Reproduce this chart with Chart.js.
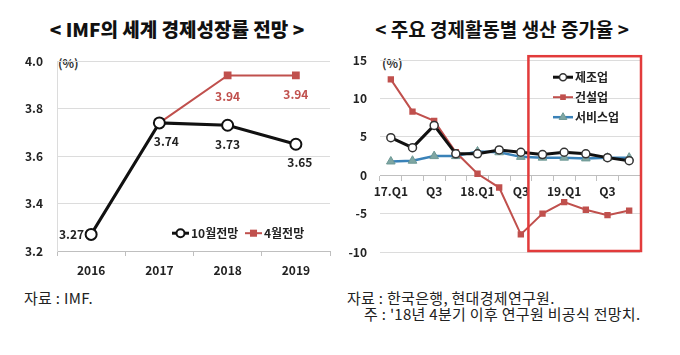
<!DOCTYPE html>
<html><head><meta charset="utf-8">
<script src="https://cdn.jsdelivr.net/npm/chart.js@4"></script>
<style>
body{margin:0;width:680px;height:355px;background:#fff;position:relative;overflow:hidden;font-family:"Noto Sans CJK KR",sans-serif;}
.t{position:absolute;white-space:nowrap;color:#111;line-height:24px;}
.f{position:absolute;white-space:nowrap;color:#222;line-height:20px;font-size:15px;letter-spacing:0.3px;}
.c{position:absolute;}
</style></head><body>
<div class="t" style="left:177px;top:17px;transform:translateX(-50%);font-size:19px;font-weight:900;">&lt; IMF의 세계 경제성장률 전망 &gt;</div>
<div class="t" style="left:502px;top:17px;transform:translateX(-50%);font-size:19px;font-weight:700;">&lt; 주요 경제활동별 생산 증가율 &gt;</div>
<div class="t" style="left:58px;top:51px;font-size:12px;font-weight:700;color:#333;">(%)</div>
<div class="t" style="left:382px;top:51px;font-size:12px;font-weight:700;color:#333;">(%)</div>
<div class="f" style="left:24px;top:288px;">자료 : IMF.</div>
<div class="f" style="left:347px;top:288px;">자료 : 한국은행, 현대경제연구원.</div>
<div class="f" style="left:364px;top:304px;">주 : '18년 4분기 이후 연구원 비공식 전망치.</div>
<canvas id="c1" class="c" width="340" height="250" style="left:0;top:40px;"></canvas>
<canvas id="c2" class="c" width="340" height="250" style="left:340px;top:40px;"></canvas>
<script>
// ---- data: left chart ----
const years = ['2016', '2017', '2018', '2019'];
const octForecast = [3.27, 3.74, 3.73, 3.65];
const aprForecast = [null, 3.74, 3.94, 3.94];
const leftSeriesNames = ['10월전망', '4월전망'];

// ---- data: right chart ----
const quarters = ['17.Q1','17.Q2','17.Q3','17.Q4','18.Q1','18.Q2','18.Q3','18.Q4','19.Q1','19.Q2','19.Q3','19.Q4'];
const quarterTickLabels = ['17.Q1','','Q3','','18.Q1','','Q3','','19.Q1','','Q3',''];
const manufacturing = [4.9, 3.6, 6.5, 2.8, 2.8, 3.3, 3.0, 2.7, 3.0, 2.8, 2.3, 1.9];
const construction = [12.5, 8.3, 7.1, 3.0, 0.2, -1.6, -7.7, -5.0, -3.5, -4.5, -5.2, -4.6];
const services = [1.8, 1.9, 2.5, 2.5, 3.1, 3.0, 2.4, 2.3, 2.3, 2.2, 2.3, 2.3];
const rightSeriesNames = ['제조업', '건설업', '서비스업'];

const FONT = '"Noto Sans CJK KR", sans-serif';
const RED = '#c0504d';

function marker(ctx, style, x, y, r, fill, stroke, bw) {
  ctx.save();
  ctx.beginPath();
  if (style === 'circle') ctx.arc(x, y, r, 0, Math.PI * 2);
  else if (style === 'rect') { const s = r * Math.SQRT1_2; ctx.rect(x - s, y - s, 2 * s, 2 * s); }
  else if (style === 'triangle') {
    ctx.moveTo(x, y - r); ctx.lineTo(x + r * 0.866, y + r * 0.5); ctx.lineTo(x - r * 0.866, y + r * 0.5); ctx.closePath();
  }
  ctx.fillStyle = fill; ctx.fill();
  if (bw) { ctx.lineWidth = bw; ctx.strokeStyle = stroke; ctx.stroke(); }
  ctx.restore();
}

const overlay = {
  id: 'overlay',
  afterDraw(chart, args, opts) {
    const ctx = chart.ctx;
    const ca = chart.chartArea;
    (opts.labels || []).forEach(l => {
      const meta = chart.getDatasetMeta(l.ds);
      const ds = chart.data.datasets[l.ds];
      ds.data.forEach((v, i) => {
        const off = l.offsets[i];
        if (v == null || !off) return;
        const p = meta.data[i];
        ctx.save();
        ctx.font = 'bold 12px ' + FONT;
        ctx.fillStyle = l.color;
        ctx.textAlign = off[2];
        ctx.textBaseline = 'middle';
        ctx.fillText(v.toFixed(2), p.x + off[0], p.y + off[1]);
        ctx.restore();
      });
    });
    if (opts.box) {
      const xs = chart.scales.x;
      const a = xs.getPixelForValue(opts.box.from), b = xs.getPixelForValue(opts.box.from + 1);
      const left = a + (b - a) * opts.box.frac;
      ctx.save();
      ctx.strokeStyle = '#e23b3b';
      ctx.lineWidth = 2.5;
      ctx.strokeRect(left, ca.top - 4, ca.right + 1 - left, ca.bottom - ca.top + 3);
      ctx.restore();
    }
    if (opts.legend) {
      const lg = opts.legend;
      lg.items.forEach((it, k) => {
        const ds = chart.data.datasets[it.ds];
        const x = ca.left + lg.x[k] , y = ca.top + lg.y[k];
        ctx.save();
        ctx.strokeStyle = ds.borderColor;
        ctx.lineWidth = ds.borderWidth;
        ctx.beginPath(); ctx.moveTo(x, y); ctx.lineTo(x + lg.len, y); ctx.stroke();
        marker(ctx, ds.pointStyle, x + lg.len / 2, y, it.r, ds.pointBackgroundColor, ds.pointBorderColor, ds.pointBorderWidth);
        ctx.font = 'bold 12px ' + FONT;
        ctx.fillStyle = it.color;
        ctx.textAlign = 'left'; ctx.textBaseline = 'middle';
        ctx.fillText(ds.label, x + lg.len + 2, y + 0.5);
        ctx.restore();
      });
    }
  }
};

new Chart(document.getElementById('c1'), {
  type: 'line',
  data: {
    labels: years,
    datasets: [
      { label: leftSeriesNames[0], data: octForecast, borderColor: '#111', borderWidth: 3,
        pointStyle: 'circle', pointRadius: 5.5, pointBackgroundColor: '#fff', pointBorderColor: '#111', pointBorderWidth: 2 },
      { label: leftSeriesNames[1], data: aprForecast, borderColor: RED, borderWidth: 2,
        pointStyle: 'rect', pointRadius: [0, 0, 5.5, 5.5], pointBackgroundColor: RED, pointBorderColor: RED, pointBorderWidth: 0 }
    ]
  },
  options: {
    responsive: false, animation: false,
    layout: { padding: { top: 15, right: 10, left: 0, bottom: 0 } },
    plugins: {
      legend: { display: false }, tooltip: { enabled: false },
      overlay: {
        labels: [
          { ds: 0, color: '#222', offsets: [[-7, 0, 'right'], [7, 19, 'center'], [0, 19, 'center'], [4, 18, 'center']] },
          { ds: 1, color: RED, offsets: [null, null, [0, 21, 'center'], [0, 19, 'center']] }
        ],
        legend: { len: 17, x: [115, 188], y: [172, 172],
          items: [ { ds: 0, r: 4, color: '#222' }, { ds: 1, r: 5, color: '#222' } ] }
      }
    },
    scales: {
      x: {
        offset: true,
        grid: { offset: true, drawOnChartArea: false, tickLength: 5, color: '#bfbfbf' },
        border: { color: '#bfbfbf' },
        ticks: { font: { family: FONT, size: 12, weight: 'bold' }, color: '#222', padding: 7, maxRotation: 0 },
        afterFit: s => { s.height = 39; }
      },
      y: {
        min: 3.2, max: 4.0,
        ticks: { stepSize: 0.2, callback: v => v.toFixed(1), font: { family: FONT, size: 12, weight: 'bold' }, color: '#222', padding: 14 },
        grid: { color: '#dcdcdc', drawTicks: false },
        border: { color: '#dcdcdc' },
        afterFit: s => { s.width = 57; }
      }
    }
  },
  plugins: [overlay]
});

new Chart(document.getElementById('c2'), {
  type: 'line',
  data: {
    labels: quarters,
    datasets: [
      { label: rightSeriesNames[0], data: manufacturing, borderColor: '#111', borderWidth: 3,
        pointStyle: 'circle', pointRadius: 4, pointBackgroundColor: '#fff', pointBorderColor: '#333', pointBorderWidth: 1.5 },
      { label: rightSeriesNames[1], data: construction, borderColor: RED, borderWidth: 2,
        pointStyle: 'rect', pointRadius: 4.5, pointBackgroundColor: RED, pointBorderColor: RED, pointBorderWidth: 0 },
      { label: rightSeriesNames[2], data: services, borderColor: '#3a82b8', borderWidth: 2.5,
        pointStyle: 'triangle', pointRadius: 5, pointBackgroundColor: '#7ea6a3', pointBorderColor: '#6f9995', pointBorderWidth: 1 }
    ]
  },
  options: {
    responsive: false, animation: false,
    layout: { padding: { top: 16, right: 40, left: 0, bottom: 38 } },
    plugins: {
      legend: { display: false }, tooltip: { enabled: false },
      overlay: {
        box: { from: 6, frac: 0.35 },
        legend: { len: 20, x: [173, 173, 173], y: [17, 37, 57],
          items: [ { ds: 0, r: 3.5, color: '#222' }, { ds: 1, r: 4, color: '#222' }, { ds: 2, r: 4.5, color: '#222' } ] }
      }
    },
    scales: {
      x: {
        position: { y: 0 },
        offset: true,
        grid: { offset: true, drawOnChartArea: false, tickLength: 5, color: '#bfbfbf' },
        border: { color: '#bfbfbf' },
        ticks: { autoSkip: false, maxRotation: 0, callback: (v, i) => quarterTickLabels[i],
          font: { family: FONT, size: 12, weight: 'bold' }, color: '#222', padding: 4 }
      },
      y: {
        min: -10, max: 15,
        ticks: { stepSize: 5, font: { family: FONT, size: 12, weight: 'bold' }, color: '#222', padding: 13 },
        grid: { color: '#dcdcdc', drawTicks: false },
        border: { display: false },
        afterFit: s => { s.width = 40; }
      }
    }
  },
  plugins: [overlay]
});
</script>
</body></html>
